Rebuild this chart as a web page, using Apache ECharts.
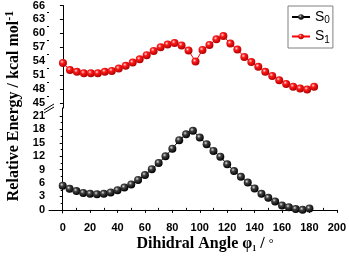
<!DOCTYPE html>
<html><head><meta charset="utf-8">
<script src="https://cdn.jsdelivr.net/npm/echarts@6/dist/echarts.min.js"></script>
<style>html,body{margin:0;padding:0;background:#fff}#c{width:349px;height:256px}</style>
</head><body><div id="c"></div>
<script>
const angles = [0,5,10,15,20,25,30,35,40,45,50,55,60,65,70,75,80,85,90,95,100,105,110,115,120,125,130,135,140,145,150,155,160,165,170,175,180];
const s0 = [5.4,4.7,4.2,3.8,3.6,3.5,3.6,3.9,4.4,5.0,5.7,6.7,7.8,9.1,10.5,12.0,13.7,15.6,16.9,17.7,16.2,14.7,13.2,11.9,10.2,8.7,7.4,6.1,4.8,3.6,2.7,1.9,1.0,0.6,0.2,0.0,0.3];
const s1 = [53.6,52.1,51.7,51.4,51.4,51.4,51.7,51.9,52.4,53.0,53.7,54.4,55.3,56.2,57.0,57.6,57.9,57.4,56.3,53.9,56.4,57.5,58.7,59.4,57.8,56.5,54.9,53.8,52.8,51.7,50.8,49.9,49.1,48.5,48.1,47.9,48.5];
const xTickLabels = [0,20,40,60,80,100,120,140,160,180,200];
const xMinorTicks = [10,30,50,70,90,110,130,150,170,190];
const upperTickLabels = [45,48,51,54,57,60,63,66];
const upperMinorTicks = [46.5,49.5,52.5,55.5,58.5,61.5,64.5];
const lowerTickLabels = [0,3,6,9,12,15,18,21];
const lowerMinorTicks = [1.5,4.5,7.5,10.5,13.5,16.5,19.5];

const tickFont = {fontFamily:'Liberation Sans', fontWeight:'bold', fontSize:11, color:'#000'};
function sphere(light, mid, dark){
  return {type:'radial', x:0.38, y:0.35, r:0.65, colorStops:[{offset:0,color:light},{offset:0.35,color:mid},{offset:1,color:dark}]};
}
function yMain(grid, min, max, labels){
  return {type:'value', gridIndex:grid, min:min, max:max, position:'left',
    axisLine:{show:true, lineStyle:{color:'#000', width:1}},
    axisTick:{show:true, length:3, customValues:labels, lineStyle:{color:'#000'}},
    axisLabel:Object.assign({margin:4, customValues:labels}, tickFont),
    splitLine:{show:false}};
}
function yMinor(grid, min, max, ticks){
  return {type:'value', gridIndex:grid, min:min, max:max, position:'left',
    axisLine:{show:false}, axisTick:{show:true, length:2, customValues:ticks, lineStyle:{color:'#000'}},
    axisLabel:{show:false}, splitLine:{show:false}};
}
const chart = echarts.init(document.getElementById('c'), null, {renderer:'canvas'});
chart.setOption({
  animation:false,
  backgroundColor:'#fff',
  grid:[
    {left:49, right:7, top:5, height:103},
    {left:49, right:7, top:108, height:105}
  ],
  xAxis:[
    {type:'value', gridIndex:0, min:-10, max:200, show:false},
    {type:'value', gridIndex:1, min:-10, max:200,
      axisLine:{show:true, lineStyle:{color:'#000'}},
      axisTick:{show:true, length:3, customValues:xTickLabels, lineStyle:{color:'#000'}},
      axisLabel:Object.assign({margin:9, customValues:xTickLabels}, tickFont),
      splitLine:{show:false}},
    {type:'value', gridIndex:1, min:-10, max:200,
      axisLine:{show:false},
      axisTick:{show:true, length:2, customValues:xMinorTicks, lineStyle:{color:'#000'}},
      axisLabel:{show:false}, splitLine:{show:false}}
  ],
  yAxis:[
    yMain(0, 43.9, 66, upperTickLabels),
    yMinor(0, 43.9, 66, upperMinorTicks),
    yMain(1, -0.7, 22.8, lowerTickLabels),
    yMinor(1, -0.7, 22.8, lowerMinorTicks)
  ],
  legend:{
    left:288, top:6, orient:'vertical', padding:[4,3,3,3], itemGap:4,
    itemWidth:18, itemHeight:7,
    borderColor:'#808080', borderWidth:1, backgroundColor:'#fff',
    data:['S0','S1'],
    formatter:function(n){return '{a|S}{b|'+n.slice(1)+'}';},
    textStyle:{fontFamily:'Liberation Sans', fontSize:14, color:'#000',
      rich:{a:{fontFamily:'Liberation Sans', fontSize:14, color:'#000'},
            b:{fontFamily:'Liberation Sans', fontSize:10, color:'#000', verticalAlign:'bottom', padding:[7,0,0,0]}}}
  },
  series:[
    {name:'S0', type:'line', xAxisIndex:1, yAxisIndex:2,
      data:angles.map((a,i)=>[a,s0[i]]),
      symbol:'circle', symbolSize:8,
      lineStyle:{color:'#000', width:1},
      itemStyle:{color:sphere('#e0e0e0','#404040','#000000'), borderWidth:0}},
    {name:'S1', type:'line', xAxisIndex:0, yAxisIndex:0,
      data:angles.map((a,i)=>[a,s1[i]]),
      symbol:'circle', symbolSize:8,
      lineStyle:{color:'#ff0000', width:1},
      itemStyle:{color:sphere('#ffe0e0','#ff1a1a','#b00000'), borderWidth:0}}
  ],
  graphic:[
    {type:'line', shape:{x1:44,y1:110,x2:54,y2:104}, style:{stroke:'#000', lineWidth:1}, z:100},
    {type:'line', shape:{x1:44,y1:113,x2:54,y2:107}, style:{stroke:'#000', lineWidth:1}, z:100},
    {type:'text', x:14, y:106, rotation:Math.PI/2, z:100,
      style:{text:'{a|Relative Energy / kcal mol}{s|-1}', align:'center', verticalAlign:'middle',
        rich:{a:{fontFamily:'Liberation Serif', fontWeight:'bold', fontSize:16, fill:'#000'},
              s:{fontFamily:'Liberation Serif', fontWeight:'bold', fontSize:12, fill:'#000', padding:[0,0,9,0]}}}},
    {type:'text', x:205, y:244, z:100,
      style:{text:'{a|Dihidral Angle φ}{s|1}{a| / }{d|°}', align:'center', verticalAlign:'middle',
        rich:{a:{fontFamily:'Liberation Serif', fontWeight:'bold', fontSize:16, fill:'#000'},
              s:{fontFamily:'Liberation Serif', fontWeight:'bold', fontSize:8, fill:'#000', padding:[9,0,0,0]},
              d:{fontFamily:'Liberation Serif', fontSize:12, fill:'#000'}}}}
  ]
});
</script></body></html>
